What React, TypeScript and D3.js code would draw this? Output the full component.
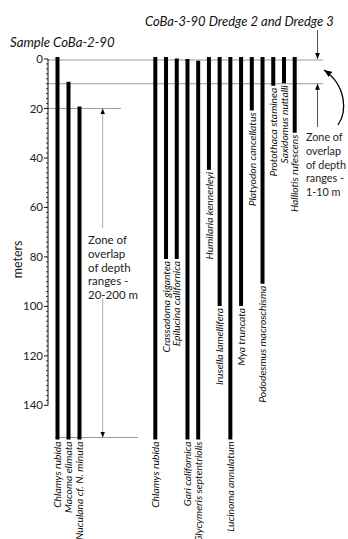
import React from "react";
import * as d3 from "d3";

// CoBa-2-90 sample (left group)
const leftSpecies = ["Chlamys rubida", "Macoma elimata", "Nuculana cf. N. minuta"];
const leftTop = [0, 10, 20];
const leftBottom = [200, 200, 200];

// CoBa-3-90 dredge 2 and 3 (right group)
const rightSpecies = [
  "Chlamys rubida",
  "Crassadoma gigantea",
  "Epilucina californica",
  "Gari californica",
  "Glycymeris septentriolis",
  "Humilaria kennerleyi",
  "Irusella lamellifera",
  "Lucinoma annulatum",
  "Mya truncata",
  "Platyodon cancellatus",
  "Pododesmus macroschisma",
  "Protothaca staminea",
  "Saxidomus nuttalli",
  "Halliotis rufescens",
];
const rightTop = [0, 0, 0.6, 0.8, 1.5, 0, 0, 0, 0, 0, 0, 0, 0, 0];
const rightBottom = [200, 80, 80, 200, 200, 44, 99, 200, 99, 20, 90, 10, 9, 29];

const majorTicks = [0, 20, 40, 60, 80, 100, 120, 140];

const FONT = "Lato, sans-serif";

const Bars = ({ names, tops, bottoms, x, y }) => (
  <g>
    {names.map((name, i) => {
      const cx = x(name + i);
      const y0 = y(tops[i]);
      const y1 = y(bottoms[i]);
      return (
        <g key={i}>
          <line x1={cx} x2={cx} y1={y0} y2={y1} stroke="#000" strokeWidth={4} strokeLinecap="square" />
          <text
            transform={`translate(${cx},${y1 + 4}) rotate(-90)`}
            textAnchor="end"
            dy="0.36em"
            fontSize={10.3}
            fontStyle="italic"
            fontFamily={FONT}
            fill="#111"
          >
            {name}
          </text>
        </g>
      );
    })}
  </g>
);

const App = () => {
  const width = 348;
  const height = 539;

  const y = d3.scaleLinear().domain([0, 153]).range([59, 437.5]).clamp(true);
  const xLeft = d3
    .scalePoint()
    .domain(leftSpecies.map((d, i) => d + i))
    .range([57.5, 79.5]);
  const xRight = d3
    .scalePoint()
    .domain(rightSpecies.map((d, i) => d + i))
    .range([155.3, 294.7]);

  const minorTicks = d3.range(0, 141, 2).filter(t => t % 20 !== 0);
  const axisX = 48;

  const leftZone = ["Zone of", "overlap", "of depth", "ranges -", "20-200 m"];
  const rightZone = ["Zone of", "overlap", "of depth", "ranges -", "1-10 m"];

  return (
    <svg
      width={width}
      height={height}
      style={{ position: "absolute", left: 0, top: 0, background: "#fff" }}
    >
      <defs>
        <marker id="head" viewBox="0 0 10 10" refX="10" refY="5" markerWidth="6" markerHeight="6" orient="auto">
          <path d="M0,1 L10,5 L0,9 Z" fill="#000" />
        </marker>
      </defs>

      {/* titles */}
      <text x={10} y={47} fontSize={13.2} fontStyle="italic" fontFamily={FONT} fill="#111">
        Sample CoBa-2-90
      </text>
      <text x={145} y={26} fontSize={13} fontStyle="italic" fontFamily={FONT} fill="#111">
        CoBa-3-90 Dredge 2 and Dredge 3
      </text>

      {/* reference lines */}
      <g stroke="#9a9a9a" strokeWidth={1}>
        <line x1={axisX} x2={323} y1={y(0) + 1} y2={y(0) + 1} />
        <line x1={axisX} x2={323} y1={y(10)} y2={y(10)} />
        <line x1={axisX} x2={121} y1={y(20)} y2={y(20)} />
        <line x1={55} x2={138} y1={y(153)} y2={y(153)} />
      </g>

      {/* axis */}
      <g fontFamily={FONT} fontSize={11.5} fill="#222">
        <line x1={axisX} x2={axisX} y1={y(0)} y2={y(140)} stroke="#111" strokeWidth={1} />
        {minorTicks.map(t => (
          <line key={t} x1={axisX - 2} x2={axisX} y1={y(t)} y2={y(t)} stroke="#111" strokeWidth={0.8} />
        ))}
        {majorTicks.map(t => (
          <g key={t}>
            <line x1={axisX - 4} x2={axisX} y1={y(t)} y2={y(t)} stroke="#111" strokeWidth={1} />
            <text x={axisX - 5} y={y(t)} dy="0.35em" textAnchor="end">
              {t}
            </text>
          </g>
        ))}
        <text transform={`translate(22,${y(81)}) rotate(-90)`} textAnchor="middle" fontSize={12.5}>
          meters
        </text>
      </g>

      <Bars names={leftSpecies} tops={leftTop} bottoms={leftBottom} x={xLeft} y={y} />
      <Bars names={rightSpecies} tops={rightTop} bottoms={rightBottom} x={xRight} y={y} />

      {/* left zone annotation */}
      <g>
        <line x1={102.7} x2={102.7} y1={228} y2={y(20)} stroke="#aaa" strokeWidth={1} markerEnd="url(#head)" />
        <line x1={102.7} x2={102.7} y1={298} y2={y(153)} stroke="#aaa" strokeWidth={1} markerEnd="url(#head)" />
        <text fontFamily={FONT} fontSize={11.5} fill="#222">
          {leftZone.map((s, i) => (
            <tspan key={i} x={88} y={244 + i * 13.8}>
              {s}
            </tspan>
          ))}
        </text>
      </g>

      {/* right zone annotation */}
      <g>
        <line x1={317.5} x2={317.5} y1={30} y2={y(0)} stroke="#555" strokeWidth={1} markerEnd="url(#head)" />
        <line x1={317.5} x2={317.5} y1={127} y2={y(10)} stroke="#555" strokeWidth={1} markerEnd="url(#head)" />
        <path
          d="M338,125 C347,112 347,86 324,70"
          fill="none"
          stroke="#000"
          strokeWidth={1.3}
          markerEnd="url(#head)"
        />
        <text fontFamily={FONT} fontSize={10.8} fill="#222">
          {rightZone.map((s, i) => (
            <tspan key={i} x={306} y={141 + i * 13.8}>
              {s}
            </tspan>
          ))}
        </text>
      </g>
    </svg>
  );
};

export default App;
